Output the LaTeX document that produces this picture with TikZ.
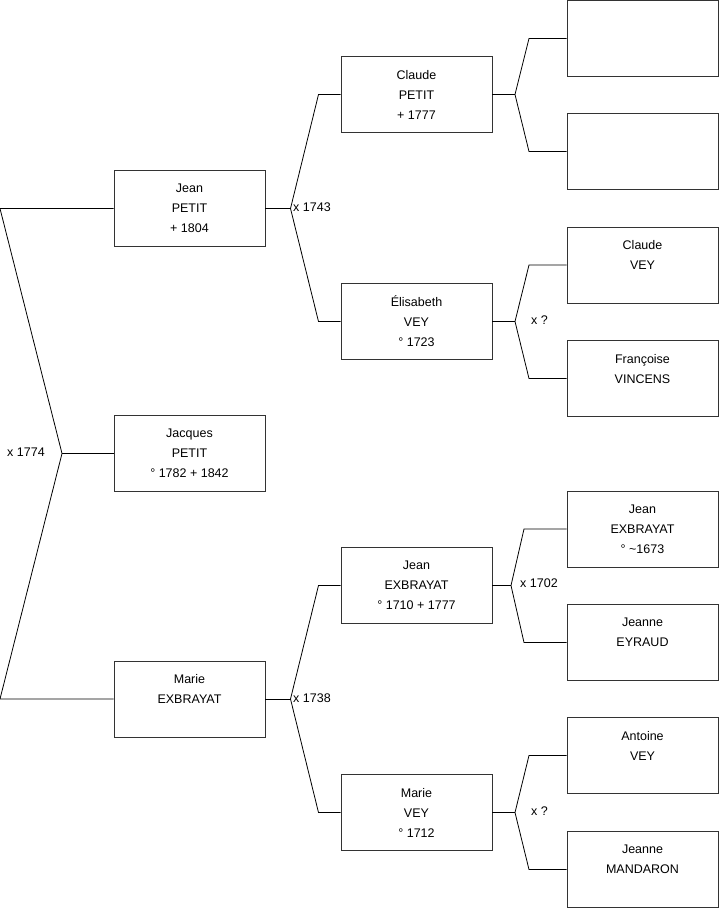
\documentclass[tikz,border=0pt]{standalone}
\usepackage{fontspec}
\setmainfont{Liberation Sans}
\usepackage{tikz}
\definecolor{boxline}{HTML}{333333}
\tikzset{
  pbox/.style={draw=boxline,line width=0.9pt,minimum width=151pt,minimum height=76pt,
    inner sep=0pt,align=center,font=\fontsize{12.5}{20}\selectfont},
  mlabel/.style={anchor=west,inner sep=0pt,font=\fontsize{12.5}{15}\selectfont},
  link/.style={draw=black,line width=0.8pt}
}

\begin{document}
\begin{tikzpicture}[x=1pt,y=-1pt]
  \useasboundingbox (0,0) rectangle (719,908);
  % generation 1
  \node[pbox] (jeanP)   at (189.5,208.5) {Jean\\PETIT\\+ 1804};
  \node[pbox] (jacques) at (189.5,453.5) {Jacques\\PETIT\\° 1782 + 1842};
  \node[pbox] (marieE)  at (189.5,699)   {Marie\\EXBRAYAT\\~};
  % generation 2
  \node[pbox] (claude)    at (416.5,94.5)  {Claude\\PETIT\\+ 1777};
  \node[pbox] (elisabeth) at (416.5,321.5) {Élisabeth\\VEY\\° 1723};
  \node[pbox] (jeanE)     at (416.5,585.5) {Jean\\EXBRAYAT\\° 1710 + 1777};
  \node[pbox] (marieV)    at (416.5,812.5) {Marie\\VEY\\° 1712};
  % generation 3
  \node[pbox] (blankA)    at (642.5,38.5)  {};
  \node[pbox] (blankB)    at (642.5,151.5) {};
  \node[pbox] (claudeV)   at (642.5,265)   {Claude\\VEY\\~};
  \node[pbox] (francoise) at (642.5,378.5) {Françoise\\VINCENS\\~};
  \node[pbox] (jeanX)     at (642.5,529)   {Jean\\EXBRAYAT\\° \textasciitilde1673};
  \node[pbox] (jeanneE)   at (642.5,642.5) {Jeanne\\EYRAUD\\~};
  \node[pbox] (antoine)   at (642.5,755.5) {Antoine\\VEY\\~};
  \node[pbox] (jeanneM)   at (642.5,869.5) {Jeanne\\MANDARON\\~};

  % couple brackets
  \coordinate (m1) at (62,453.5);
  \coordinate (m1a) at (0,208.5);
  \coordinate (m1b) at (0,699);
  \draw[link] (jeanP.west) -- (m1a) -- (m1) -- (m1b) -- (marieE.west);
  \draw[link] (m1) -- (jacques.west);
  \node[mlabel] (l1) at (7,452.5) {x 1774};

  \coordinate (m2) at (290.5,208.5);
  \draw[link] (jeanP.east) -- (m2);
  \draw[link] (claude.west) -- (318.5,94.5) -- (m2) -- (318.5,321.5) -- (elisabeth.west);
  \node[mlabel] (l2) at (293,207.5) {x 1743};

  \coordinate (m3) at (515,94.5);
  \draw[link] (claude.east) -- (m3);
  \draw[link] (blankA.west) -- (529,38.5) -- (m3) -- (529,151.5) -- (blankB.west);

  \coordinate (m4) at (515,321.5);
  \draw[link] (elisabeth.east) -- (m4);
  \draw[link] (claudeV.west) -- (529,265) -- (m4) -- (529,378.5) -- (francoise.west);
  \node[mlabel] (l4) at (531,320) {x ?};

  \coordinate (m5) at (290.5,699);
  \draw[link] (marieE.east) -- (m5);
  \draw[link] (jeanE.west) -- (318.5,585.5) -- (m5) -- (318.5,812.5) -- (marieV.west);
  \node[mlabel] (l5) at (293,698) {x 1738};

  \coordinate (m6) at (511,585.5);
  \draw[link] (jeanE.east) -- (m6);
  \draw[link] (jeanX.west) -- (524,529) -- (m6) -- (524,642.5) -- (jeanneE.west);
  \node[mlabel] (l6) at (520,583) {x 1702};

  \coordinate (m7) at (515,812.5);
  \draw[link] (marieV.east) -- (m7);
  \draw[link] (antoine.west) -- (529,755.5) -- (m7) -- (529,869.5) -- (jeanneM.west);
  \node[mlabel] (l7) at (531,811) {x ?};
\end{tikzpicture}
\end{document}
